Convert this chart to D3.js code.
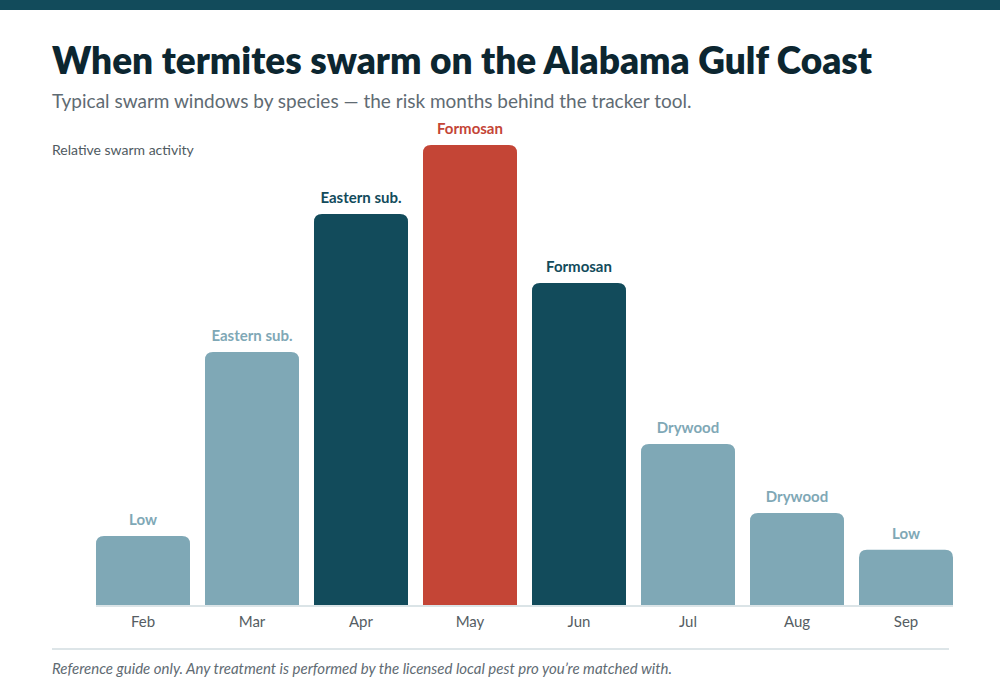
<!DOCTYPE html>
<html>
<head>
<meta charset="utf-8">
<script src="https://cdn.jsdelivr.net/npm/d3@7"></script>
<style>
body { margin: 0; background: #fff; font-family: Lato, "Open Sans", sans-serif; }
</style>
</head>
<body>
<script>
"use strict";
const months = ["Feb", "Mar", "Apr", "May", "Jun", "Jul", "Aug", "Sep"];
const activity = [15, 55, 85, 100, 70, 35, 20, 12];
const species = ["Low", "Eastern sub.", "Eastern sub.", "Formosan", "Formosan", "Drywood", "Drywood", "Low"];
const level = ["low", "low", "high", "peak", "high", "low", "low", "low"];

const size = {"width": 1000, "height": 700};
const margin = {"top": 145, "right": 47, "bottom": 95, "left": 96};
const colors = {"low": "#7fa8b6", "high": "#124b5b", "peak": "#c44536"};

const svg = d3.select("body").append("svg").attr("width", size.width).attr("height", size.height);

svg.append("rect").attr("x", 0).attr("y", 0).attr("width", size.width).attr("height", 10).attr("fill", "#124b5b");

svg.append("text").attr("x", 52).attr("y", 74)
	.style("font-size", "37px").style("font-weight", 800).attr("fill", "#0c2630")
	.text("When termites swarm on the Alabama Gulf Coast");
svg.append("text").attr("x", 52).attr("y", 108)
	.style("font-size", "19px").attr("fill", "#5f6b73")
	.text("Typical swarm windows by species \u2014 the risk months behind the tracker tool.");
svg.append("text").attr("x", 52).attr("y", 155)
	.style("font-size", "14px").attr("fill", "#4f5a61")
	.text("Relative swarm activity");

const xScale = d3.scaleBand().domain(months)
	.range([margin.left - 7.5, size.width - margin.right + 7.5]).paddingInner(15 / 109).paddingOuter(0.0688);
const yScale = d3.scaleLinear().domain([0, 100]).range([size.height - margin.bottom, margin.top]);
const y0 = yScale(0);
const r = 8;

function barPath(d, i) {
	const x = xScale(months[i]);
	const w = xScale.bandwidth();
	const y = yScale(d);
	return "M" + x + "," + y0 + "V" + (y + r) + "Q" + x + "," + y + " " + (x + r) + "," + y +
		"H" + (x + w - r) + "Q" + (x + w) + "," + y + " " + (x + w) + "," + (y + r) + "V" + y0 + "Z";
}

svg.selectAll("path.bar")
	.data(activity)
	.enter()
	.append("path")
	.attr("class", "bar")
	.attr("d", barPath)
	.attr("fill", (d, i) => colors[level[i]]);

svg.selectAll("text.label")
	.data(activity)
	.enter()
	.append("text")
	.attr("class", "label")
	.attr("x", (d, i) => xScale(months[i]) + xScale.bandwidth() / 2)
	.attr("y", (d) => yScale(d) - 11)
	.attr("text-anchor", "middle")
	.style("font-size", "15px").style("font-weight", 700)
	.attr("fill", (d, i) => colors[level[i]])
	.text((d, i) => species[i]);

const xAxis = d3.axisBottom(xScale).tickSize(0).tickPadding(11);
const gx = svg.append("g").attr("transform", "translate(0," + y0 + ")").call(xAxis);
gx.select(".domain").attr("stroke", "#dbe4e7").attr("stroke-width", 2)
	.attr("d", "M" + xScale(months[0]) + ",1H" + (xScale(months[7]) + xScale.bandwidth()));
gx.selectAll("text").style("font-size", "15px").style("font-family", "Lato, sans-serif").attr("fill", "#555d63");

svg.append("line").attr("x1", 52).attr("x2", 949).attr("y1", 649).attr("y2", 649)
	.attr("stroke", "#dde5e8").attr("stroke-width", 2);
svg.append("text").attr("x", 52).attr("y", 674)
	.style("font-size", "15px").style("font-style", "italic").attr("fill", "#5f6b73")
	.text("Reference guide only. Any treatment is performed by the licensed local pest pro you\u2019re matched with.");
</script>
</body>
</html>
